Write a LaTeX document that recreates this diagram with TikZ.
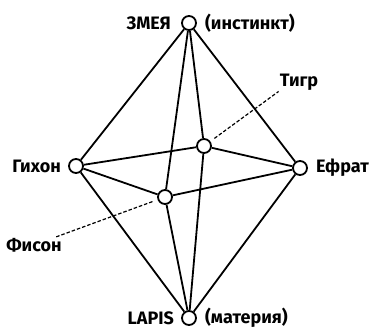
\documentclass[tikz,border=0pt]{standalone}
\usepackage{fontspec}
\setmainfont{Fira Sans}
\usetikzlibrary{positioning}
\tikzset{
  river/.style={circle,draw,line width=1.8pt,minimum size=14pt,inner sep=0pt},
  txt/.style={font=\bfseries\fontsize{18}{20}\selectfont,inner sep=1pt},
  link/.style={line width=1.8pt},
  pointer/.style={dash pattern=on 3.5pt off 2pt,line width=1.2pt}
}
\begin{document}
\begin{tikzpicture}[x=1pt,y=-1pt]
  \useasboundingbox (0,0) rectangle (369,330);

  % Vertices
  \node[river] (zmeya) at (189,23) {};
  \node[river] (gihon) at (76,166) {};
  \node[river] (efrat) at (300,168) {};
  \node[river] (tigr)  at (204,146) {};
  \node[river] (fison) at (165,197) {};
  \node[river] (lapis) at (189,318) {};

  % Labels
  \node[txt, left=9pt of zmeya]  (zmeyaL) {ЗМЕЯ};
  \node[txt, right=7pt of zmeya] (zmeyaR) {(инстинкт)};
  \node[txt, left=6pt of gihon]  (gihonL) {Гихон};
  \node[txt, right=7pt of efrat] (efratL) {Ефрат};
  \node[txt, left=6pt of lapis]  (lapisL) {LAPIS};
  \node[txt, right=7pt of lapis] (lapisR) {(материя)};
  \node[txt] (tigrL)  at (299,82)  {Тигр};
  \node[txt] (fisonL) at (34,245)  {Фисон};

  % Edges
  \foreach \a/\b in {zmeya/gihon, zmeya/efrat, zmeya/tigr, zmeya/fison,
                     gihon/tigr, tigr/efrat, gihon/fison, fison/efrat,
                     gihon/lapis, efrat/lapis, fison/lapis, tigr/lapis}
    \draw[link] (\a) -- (\b);

  % Pointers
  \draw[pointer, shorten <=5pt] (tigr) -- (tigrL.south west);
  \draw[pointer, shorten >=4pt] (fisonL) -- (fison);
\end{tikzpicture}
\end{document}
